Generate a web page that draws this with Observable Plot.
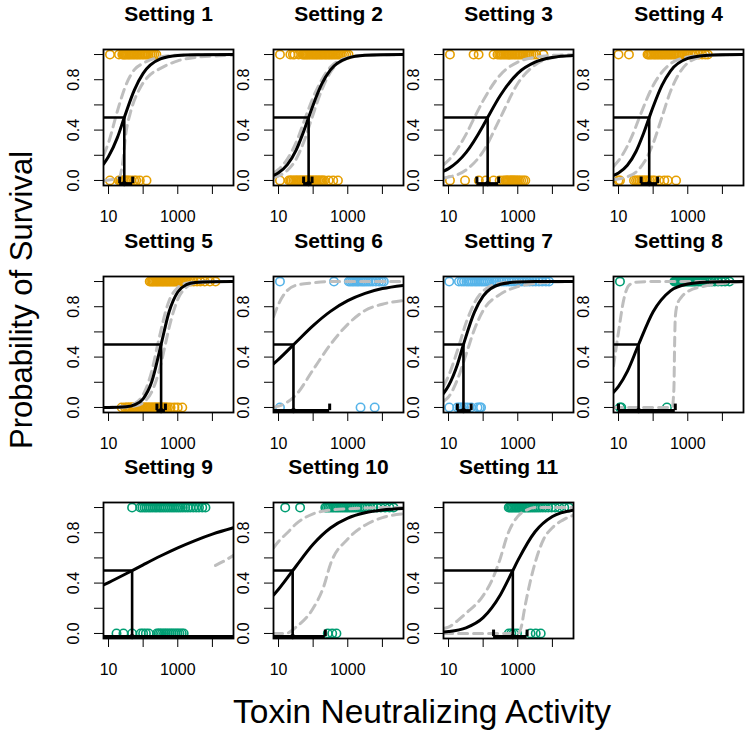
<!DOCTYPE html>
<html>
<head>
<meta charset="utf-8">
<script src="https://cdn.jsdelivr.net/npm/d3@7"></script>
<script src="https://cdn.jsdelivr.net/npm/@observablehq/plot@0.6"></script>
<style>
  body { margin: 0; background: #fff; }
  #chart { position: relative; width: 751px; height: 737px; overflow: hidden; background: #fff;
           font-family: "Liberation Sans", Arial, Helvetica, sans-serif; }
  .panel { position: absolute; }
  .ytitle { position: absolute; left: 22px; top: 300px; transform: translate(-50%, -50%) rotate(-90deg);
            white-space: nowrap; font-size: 31px; color: #000; }
  .xtitle { position: absolute; left: 422px; top: 712px; transform: translate(-50%, -50%);
            white-space: nowrap; font-size: 33.5px; color: #000; }
</style>
</head>
<body>
<div id="chart"></div>
<script>
// ---------- data ----------
const settings = ["Setting 1","Setting 2","Setting 3","Setting 4","Setting 5","Setting 6",
                  "Setting 7","Setting 8","Setting 9","Setting 10","Setting 11"];
const pointColors = ["#E69F00","#E69F00","#E69F00","#E69F00","#E69F00","#56B4E9",
                     "#56B4E9","#009E73","#009E73","#009E73","#009E73"];
const ed50   = [28.5, 74, 135, 77, 330, 27, 27, 38, 48, 25.6, 720];
const ciLow  = [21, 53, 66, 45, 250, 1, 18, 10, 1, 1, 200];
const ciHigh = [50, 93, 282, 135, 440, 300, 45, 436, 1e6, 225, 1860];

const xTicks = [10, 100, 1000, 10000];
const xTickLabels = [10, 1000];
const yTicks = [0, 0.2, 0.4, 0.6, 0.8, 1];
const yTickLabels = [0, 0.4, 0.8];

// toxin neutralizing activity of animals that survived (y = 1)
const survivedTNA = [
  [11, 20, 25, 27, 29, 31, 34, 37, 40, 44, 48, 53, 58, 64, 70, 77, 85, 95, 105, 118, 130, 145, 165, 185, 210, 240],
  [11, 22, 26, 29, 38, 48, 52, 56, 60, 65, 70, 76, 82, 90, 98, 106, 115, 125, 135, 148, 160, 175, 190, 210, 230, 250, 275, 300, 330, 360, 400, 440, 490, 540, 600, 680, 780, 900, 1050],
  [11, 53, 74, 200, 260, 290, 320, 350, 390, 430, 480, 530, 590, 650, 720, 800, 880, 980, 1080, 1200, 1350, 1500, 1700, 1900, 2200, 2500, 2900, 3400, 5500],
  [10, 20, 69, 75, 82, 90, 100, 110, 120, 132, 145, 160, 175, 190, 210, 230, 255, 280, 310, 340, 380, 420, 470, 520, 580, 650, 730, 820, 920, 1050, 1200, 1400, 1700, 2100, 2600, 3200, 3800],
  [155, 170, 185, 200, 220, 240, 260, 285, 310, 340, 370, 400, 440, 480, 520, 570, 620, 680, 740, 810, 890, 970, 1060, 1160, 1270, 1400, 1550, 1750, 2000, 2400, 2900, 3600, 4500, 6000, 8500, 12300],
  [11, 400, 1070, 1200, 1350, 1500, 1700, 1900, 2100, 2400, 2700, 3000, 3400, 3900, 4500, 5300, 6500, 8000, 9500, 11000],
  [10.5, 20, 24, 28, 33, 38, 44, 50, 58, 66, 76, 88, 100, 115, 135, 155, 180, 210, 245, 290, 340, 400, 470, 560, 660, 780, 920, 1100, 1300, 1550, 1850, 2200, 2700, 3300, 4100, 5100, 6500, 8000],
  [11, 410, 440, 470, 510, 550, 600, 650, 700, 760, 830, 900, 980, 1070, 1170, 1280, 1400, 1550, 1700, 1900, 2100, 2400, 2700, 3100, 3600, 4200, 5000, 6000, 7500, 9500, 12000, 16000],
  [48, 83, 95, 110, 125, 145, 165, 190, 220, 250, 290, 330, 380, 440, 510, 590, 680, 780, 900, 1040, 1200, 1400, 1650, 1950, 2300, 2800, 3400, 4100, 5100, 6300],
  [15.6, 42, 225, 250, 280, 310, 350, 390, 440, 490, 550, 620, 700, 790, 890, 1000, 1130, 1280, 1450, 1650, 1900, 2200, 2600, 3100, 3700, 4500, 5500, 7000, 9000, 12000, 16000, 21000],
  [550, 600, 660, 720, 790, 870, 950, 1050, 1150, 1270, 1400, 1550, 1700, 1900, 2100, 2350, 2650, 3000, 3400, 3900, 4500, 5300, 6300, 7600, 9500, 12000, 16000, 22000, 30000]
];

// toxin neutralizing activity of animals that died (y = 0)
const diedTNA = [
  [11, 20, 22, 24, 27, 30, 34, 38, 45, 55, 63, 80, 125],
  [11, 20, 22, 24, 27, 30, 33, 36, 40, 44, 48, 53, 58, 64, 70, 77, 85, 94, 104, 115, 127, 140, 155, 172, 190, 210, 280, 380, 520],
  [11, 30, 75, 120, 200, 300, 380, 440, 480, 520, 560, 600, 650, 700, 760, 820, 900, 1000, 1100, 1250, 1450, 1650],
  [10, 11, 28, 32, 36, 40, 45, 50, 56, 62, 70, 80, 95, 110, 150, 210, 265, 460],
  [24, 30, 34, 38, 42, 47, 52, 58, 64, 70, 78, 86, 95, 105, 115, 128, 140, 155, 170, 190, 210, 230, 255, 280, 310, 340, 380, 420, 460, 520, 620, 800, 1000, 1350],
  [11, 2340, 6000],
  [10.5, 18, 21, 24, 28, 35, 45, 69, 80, 87],
  [11, 12, 250],
  [17, 27, 48, 85, 100, 120, 145, 250, 280, 310, 350, 400, 450, 510, 580, 660, 750, 860, 980, 1120, 1300, 1480],
  [265, 355, 470],
  [550, 650, 760, 950, 2340, 3300, 4600]
];

// fitted survival curve, [TNA, probability]
const fitCurves = [
  [[7.2,0.13],[10,0.19],[18,0.34],[28.5,0.5],[56,0.72],[100,0.85],[316,0.965],[1000,0.993],[3160,0.998],[41000,1]],
  [[7.2,0.041],[10,0.062],[18,0.126],[32,0.239],[50,0.37],[74,0.5],[100,0.6],[178,0.767],[316,0.878],[1000,0.972],[3160,0.994],[10000,0.999],[41000,1]],
  [[7.2,0.073],[10,0.094],[32,0.221],[100,0.435],[135,0.5],[316,0.677],[1000,0.851],[3160,0.939],[10000,0.977],[41000,0.993]],
  [[7.2,0.04],[10,0.06],[18,0.121],[32,0.23],[50,0.357],[77,0.5],[100,0.585],[178,0.753],[316,0.869],[1000,0.969],[3160,0.993],[10000,0.9986],[41000,1]],
  [[7.2,0.0002],[10,0.0005],[32,0.006],[56,0.021],[100,0.069],[178,0.206],[330,0.5],[562,0.76],[1000,0.917],[1780,0.975],[3160,0.993],[10000,0.999],[41000,1]],
  [[7.2,0.347],[10,0.382],[32,0.518],[100,0.65],[316,0.763],[1000,0.848],[3160,0.906],[10000,0.944],[41000,0.97]],
  [[7.2,0.112],[10,0.173],[18,0.34],[27,0.5],[56,0.757],[100,0.884],[316,0.979],[1000,0.996],[3160,0.9994],[41000,1]],
  [[7.2,0.121],[10,0.168],[18,0.287],[38,0.5],[100,0.76],[316,0.926],[1000,0.98],[3160,0.995],[10000,0.9987],[41000,1]],
  [[7.2,0.385],[10,0.404],[32,0.474],[100,0.545],[316,0.615],[1000,0.68],[3160,0.738],[10000,0.789],[41000,0.84]],
  [[7.2,0.305],[10,0.351],[32,0.534],[100,0.708],[316,0.837],[1000,0.916],[3160,0.958],[10000,0.98],[41000,0.992]],
  [[7.2,0.011],[10,0.015],[32,0.045],[100,0.126],[316,0.308],[720,0.5],[1000,0.578],[3160,0.808],[10000,0.929],[41000,0.98]]
];

// dashed confidence bands, [TNA, probability]
const upperBands = [
  [[7.2,0.2],[10,0.3],[18,0.55],[32,0.76],[56,0.88],[100,0.93],[316,0.98],[1000,0.995],[41000,1]],
  [[7.2,0.06],[10,0.088],[18,0.17],[32,0.3],[60,0.5],[100,0.66],[178,0.8],[316,0.9],[1000,0.975],[3160,0.994],[41000,1]],
  [[7.2,0.124],[10,0.16],[32,0.366],[56,0.5],[100,0.634],[316,0.84],[1000,0.94],[3160,0.979],[10000,0.993],[41000,0.998]],
  [[7.2,0.112],[10,0.157],[18,0.273],[32,0.43],[40,0.5],[100,0.754],[316,0.926],[1000,0.98],[3160,0.995],[41000,1]],
  [[7.2,0.0003],[10,0.0006],[32,0.008],[56,0.03],[100,0.101],[178,0.29],[263,0.5],[562,0.848],[1000,0.953],[1780,0.987],[3160,0.996],[10000,1],[41000,1]],
  [[7.2,0.72],[10,0.82],[18,0.93],[32,0.97],[100,0.99],[316,1],[41000,1]],
  [[7.2,0.17],[10,0.25],[18,0.45],[32,0.67],[56,0.83],[100,0.925],[316,0.987],[1000,0.998],[3160,1],[41000,1]],
  [[7.2,0.33],[10,0.6],[14,0.85],[20,0.97],[32,0.995],[100,1],[41000,1]],
  [],
  [[7.2,0.68],[10,0.73],[18,0.8],[32,0.87],[100,0.95],[316,0.98],[1000,0.99],[10000,1],[41000,1]],
  [[7.2,0.04],[10,0.05],[18,0.1],[32,0.16],[100,0.3],[178,0.42],[316,0.6],[500,0.78],[1000,0.93],[1780,0.98],[3160,1],[41000,1]]
];
const lowerBands = [
  [[7.2,0],[20,0.02],[25,0.12],[32,0.38],[44,0.55],[80,0.73],[160,0.84],[316,0.89],[1000,0.95],[4000,0.98],[16000,0.99],[41000,0.995]],
  [[7.2,0.022],[10,0.036],[18,0.08],[32,0.168],[56,0.32],[93,0.5],[178,0.72],[316,0.86],[1000,0.97],[3160,0.995],[41000,1]],
  [[7.2,0.02],[10,0.027],[32,0.083],[100,0.23],[316,0.5],[1000,0.77],[3160,0.917],[10000,0.974],[41000,0.99]],
  [[7.2,0.008],[10,0.012],[18,0.029],[32,0.067],[56,0.148],[100,0.294],[178,0.5],[316,0.706],[1000,0.933],[3160,0.988],[10000,0.998],[41000,1]],
  [[7.2,0.0001],[10,0.0003],[32,0.003],[56,0.011],[100,0.039],[178,0.125],[316,0.33],[437,0.5],[562,0.634],[1000,0.858],[1780,0.955],[3160,0.987],[10000,0.999],[41000,1]],
  [[7.2,0],[10,0.01],[32,0.1],[100,0.3],[316,0.5],[1000,0.66],[3160,0.77],[10000,0.82],[41000,0.85]],
  [[7.2,0.05],[10,0.083],[18,0.22],[32,0.42],[56,0.62],[100,0.77],[316,0.9],[1000,0.96],[3160,0.985],[10000,0.995],[41000,1]],
  [[7.2,0],[355,0],[398,0.15],[417,0.5],[437,0.72],[500,0.82],[631,0.87],[1000,0.92],[3160,0.965],[10000,0.985],[41000,0.995]],
  [[12300,0.54],[20000,0.57],[41000,0.62]],
  [[7.2,0],[16,0],[32,0.05],[100,0.2],[200,0.37],[316,0.55],[1000,0.75],[3160,0.86],[10000,0.92],[41000,0.95]],
  [[7.2,0],[1000,0],[1260,0.05],[1580,0.2],[2240,0.4],[3160,0.56],[5620,0.75],[10000,0.84],[20000,0.9],[41000,0.94]]
];

// ---------- layout ----------
const boxLefts = [103, 273, 443, 613];
const boxTops = [49, 276, 502];
const boxW = 130, boxH = 136;
const mL = 45, mR = 5, mT = 48, mB = 46;
const xDomain = [7.16, 40700];
const yDomain = [-0.04, 1.04];
const barY = -0.025, tickTop = 0.027;
const font = "Liberation Sans, Arial, Helvetica, sans-serif";

const chart = document.getElementById("chart");

settings.forEach((name, i) => {
  const col = i % 4, row = Math.floor(i / 4);
  const color = pointColors[i];
  const svg = Plot.plot({
    width: mL + boxW + mR,
    height: mT + boxH + mB,
    marginLeft: mL, marginRight: mR, marginTop: mT, marginBottom: mB,
    style: {background: "transparent", overflow: "visible", fontFamily: font, color: "black"},
    x: {type: "log", domain: xDomain, ticks: xTicks, tickFormat: () => "", tickSize: 9, label: null},
    y: {domain: yDomain, ticks: yTicks, tickFormat: () => "", tickSize: 9, label: null},
    marks: [
      Plot.dot(survivedTNA[i], {x: d => d, y: () => 1, r: 4.2, stroke: color, strokeWidth: 1.6, fill: "none"}),
      Plot.dot(diedTNA[i], {x: d => d, y: () => 0, r: 4.2, stroke: color, strokeWidth: 1.6, fill: "none"}),
      Plot.line(upperBands[i], {x: d => d[0], y: d => d[1], stroke: "#BEBEBE", strokeWidth: 3,
        strokeDasharray: "9,6", curve: "monotone-x", clip: true}),
      Plot.line(lowerBands[i], {x: d => d[0], y: d => d[1], stroke: "#BEBEBE", strokeWidth: 3,
        strokeDasharray: "9,6", curve: "monotone-x", clip: true}),
      Plot.line(fitCurves[i], {x: d => d[0], y: d => d[1], stroke: "black", strokeWidth: 3,
        curve: "monotone-x", clip: true}),
      Plot.ruleY([0.5], {x1: () => 1, x2: () => ed50[i], stroke: "black", strokeWidth: 2.6, clip: true}),
      Plot.ruleX([ed50[i]], {y1: barY, y2: 0.5, stroke: "black", strokeWidth: 2.6, clip: true}),
      Plot.ruleY([barY], {x1: () => ciLow[i], x2: () => ciHigh[i], stroke: "black", strokeWidth: 3, clip: true}),
      Plot.ruleX([ciLow[i], ciHigh[i]], {y1: barY, y2: tickTop, stroke: "black", strokeWidth: 3, clip: true}),
      Plot.dot([ed50[i]], {x: d => d, y: () => barY, r: 2.6, fill: "black"}),
      Plot.frame({stroke: "black", strokeWidth: 1.8}),
      Plot.text(xTickLabels, {x: d => d, text: d => String(d), frameAnchor: "bottom", dy: 31,
        fontSize: 16, lineAnchor: "middle", textAnchor: "middle", fill: "black"}),
      Plot.text(yTickLabels, {y: d => d, text: d => d.toFixed(1), frameAnchor: "left", dx: -30,
        rotate: -90, fontSize: 16, lineAnchor: "middle", textAnchor: "middle", fill: "black"}),
      Plot.text([name], {text: d => d, frameAnchor: "top", dy: -35, fontSize: 21, fontWeight: "bold",
        lineAnchor: "middle", textAnchor: "middle", fill: "black"})
    ]
  });
  svg.classList.add("panel");
  svg.style.left = (boxLefts[col] - mL) + "px";
  svg.style.top = (boxTops[row] - mT) + "px";
  chart.appendChild(svg);
});

const yTitle = document.createElement("div");
yTitle.className = "ytitle";
yTitle.textContent = "Probability of Survival";
chart.appendChild(yTitle);

const xTitle = document.createElement("div");
xTitle.className = "xtitle";
xTitle.textContent = "Toxin Neutralizing Activity";
chart.appendChild(xTitle);
</script>
</body>
</html>
